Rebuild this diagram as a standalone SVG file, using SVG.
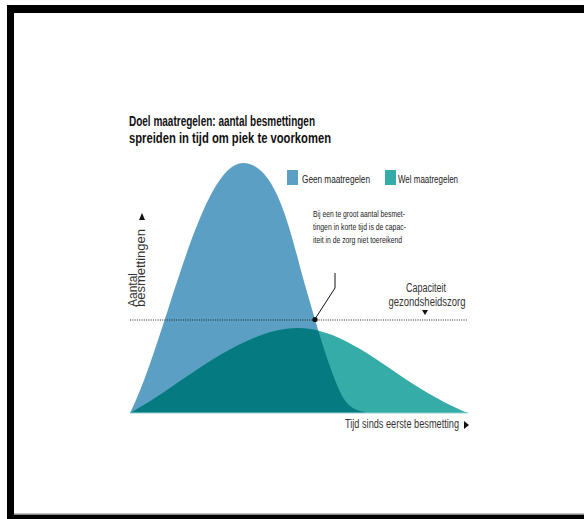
<svg xmlns="http://www.w3.org/2000/svg" width="584" height="519" viewBox="0 0 584 519">
<style>
.t{font-family:"Liberation Sans",Arial,sans-serif;fill:#222}
.title{font-weight:bold;font-size:15.5px;fill:#111}
.leg{font-size:11px}
.ann{font-size:9.5px}
.cap{font-size:12.5px;fill:#333}
.ax{font-size:12px;fill:#333}
</style>
<defs>
<clipPath id="blueClip"><path d="M130,413 C165,345 200,163 243,163 C278,163 292,240 305,285 C315,320 325,355 335,380 C342,398 348,410 365,412 L365,413 Z"/></clipPath>
</defs>
<rect x="0" y="0" width="584" height="519" fill="#fff"/>
<g id="frame">
<rect x="7" y="5" width="577" height="8" fill="#000"/>
<rect x="7" y="5" width="7" height="514" fill="#000"/>
<rect x="7" y="515" width="577" height="4" fill="#000"/>
<rect x="14" y="513.5" width="570" height="1.5" fill="#888"/>
</g>
<g id="title">
<text class="t title" x="129" y="126" textLength="186" lengthAdjust="spacingAndGlyphs">Doel maatregelen: aantal besmettingen</text>
<text class="t title" x="129" y="143" textLength="202" lengthAdjust="spacingAndGlyphs">spreiden in tijd om piek te voorkomen</text>
</g>
<g id="curves">
<path id="geen" d="M130,413 C165,345 200,163 243,163 C278,163 292,240 305,285 C315,320 325,355 335,380 C342,398 348,410 365,412 L365,413 Z" fill="#5b9fc4"/>
<path id="wel" d="M130,413 C175,390 240,328 298,328 C335,328 370,355 410,382 C435,398 455,408 468,413 Z" fill="#36aca8"/>
<path id="overlap" d="M130,413 C175,390 240,328 298,328 C335,328 370,355 410,382 C435,398 455,408 468,413 Z" fill="#067a81" clip-path="url(#blueClip)"/>
<line x1="130" y1="413" x2="468" y2="413" stroke="#8fd3cf" stroke-width="1"/>
</g>
<g id="capacity-line">
<line x1="130" y1="320" x2="468" y2="320" stroke="#222" stroke-width="1.2" stroke-dasharray="1,1.3"/>
</g>
<g id="legend">
<rect x="287" y="170" width="11" height="15" fill="#5b9fc4"/>
<text class="t leg" x="302" y="183" textLength="68" lengthAdjust="spacingAndGlyphs">Geen maatregelen</text>
<rect x="385" y="170" width="11" height="15" fill="#36aca8"/>
<text class="t leg" x="398" y="183" textLength="60" lengthAdjust="spacingAndGlyphs">Wel maatregelen</text>
</g>
<g id="annotation">
<text class="t ann" x="313" y="217" textLength="92" lengthAdjust="spacingAndGlyphs">Bij een te groot aantal besmet-</text>
<text class="t ann" x="313" y="229.5" textLength="93" lengthAdjust="spacingAndGlyphs">tingen in korte tijd is de capac-</text>
<text class="t ann" x="313" y="242.5" textLength="89" lengthAdjust="spacingAndGlyphs">iteit in de zorg niet toereikend</text>
</g>
<g id="connectors">
<polyline points="335,273 335,288 315,319" fill="none" stroke="#111" stroke-width="1"/>
<circle cx="315" cy="319.5" r="2.6" fill="#111"/>
</g>
<g id="capacity-label">
<text class="t cap" x="426" y="292" text-anchor="middle" textLength="40" lengthAdjust="spacingAndGlyphs">Capaciteit</text>
<text class="t cap" x="427" y="306" text-anchor="middle" textLength="77" lengthAdjust="spacingAndGlyphs">gezondsheidszorg</text>
<polygon points="422,310 428,310 425,315" fill="#111"/>
</g>
<g id="y-axis-label">
<text class="t ax" transform="translate(137,307) rotate(-90)">Aantal</text>
<text class="t ax" transform="translate(145,307) rotate(-90)" textLength="78" lengthAdjust="spacingAndGlyphs">besmettingen</text>
<polygon points="139,220 145,220 142,213" fill="#111"/>
</g>
<g id="x-axis-label">
<text class="t ax" x="345" y="428" textLength="114" lengthAdjust="spacingAndGlyphs">Tijd sinds eerste besmetting</text>
<polygon points="464,421 464,429 469,425" fill="#111"/>
</g>
</svg>
